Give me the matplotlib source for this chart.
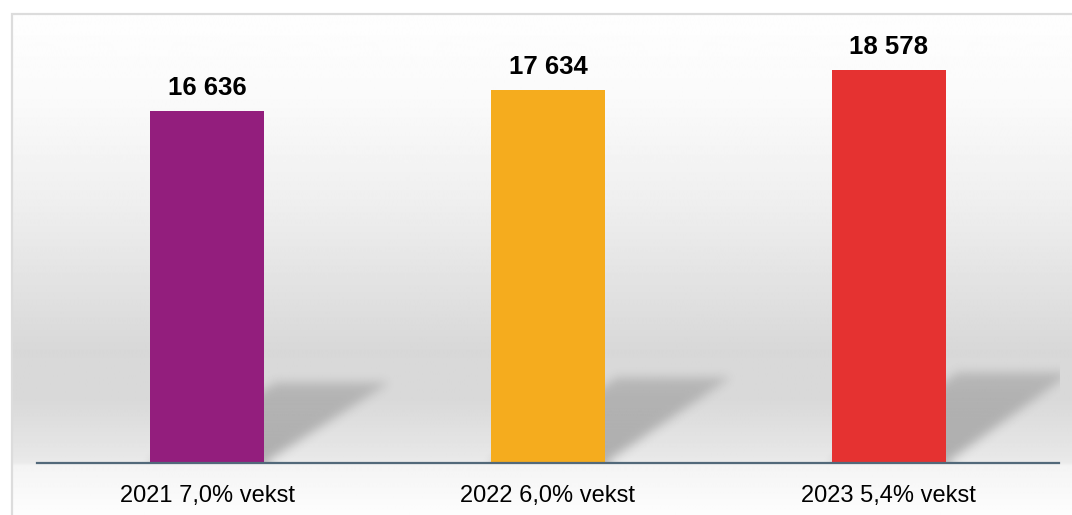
import numpy as np
import matplotlib.pyplot as plt
from matplotlib.patches import Rectangle

plt.rcParams['font.family'] = ['Liberation Sans Narrow', 'Liberation Sans', 'DejaVu Sans']

# data
labels = ["2021 7,0% vekst", "2022 6,0% vekst", "2023 5,4% vekst"]
values = [16636, 17634, 18578]
value_texts = ["16 636", "17 634", "18 578"]
colors = ["#931E7D", "#F5AC1E", "#E53231"]

W, H = 1072, 515
fig = plt.figure(figsize=(W / 100, H / 100), dpi=100)

# background gradient inside the frame (figure level)
bg = fig.add_axes([11 / W, 0, 1 - 11 / W, 1 - 14 / H], zorder=0)
ys = np.array([14, 100, 200, 300, 350, 400, 455, 463, 466, 515])
gs = np.array([254, 250, 239, 224, 216, 217, 231, 235, 244, 253])
rows = np.interp(np.arange(14, 516), ys, gs) / 255.0
img = np.repeat(rows[:, None], 4, axis=1)
bg.imshow(img, cmap='gray', vmin=0, vmax=1, aspect='auto', interpolation='bilinear',
          extent=[0, 1, 0, 1])
bg.set_axis_off()

# light frame
fig.patches.append(Rectangle((11.5 / W, -0.01), 1.0, 1 - 14.5 / H + 0.01,
                             transform=fig.transFigure, fill=False,
                             edgecolor='#DCDCDC', linewidth=1.6, zorder=1))

ax = fig.add_axes([37 / W, (H - 463) / H, (1059 - 37) / W, (463 - 14) / H], zorder=2)
ax.patch.set_alpha(0)

x = np.arange(len(values))
bw = 0.335
ymax = 21220

# soft blurred shadows behind the bars
px_x = 3.0 / (1059 - 37)      # data units per pixel
px_y = ymax / (463 - 14)
dx = 0.367


def blur(a, sigma):
    r = int(3 * sigma)
    k = np.exp(-0.5 * (np.arange(-r, r + 1) / sigma) ** 2)
    k /= k.sum()
    a = np.apply_along_axis(lambda m: np.convolve(m, k, mode='same'), 0, a)
    a = np.apply_along_axis(lambda m: np.convolve(m, k, mode='same'), 1, a)
    return a


for xi, v in zip(x, values):
    hs = 0.23 * v
    pad = 20
    x0 = xi - bw / 2 - pad * px_x
    x1 = xi + bw / 2 + dx + pad * px_x
    y1 = hs + pad * px_y
    nx = int((x1 - x0) / px_x)
    ny = int(y1 / px_y)
    gx = np.linspace(x0, x1, nx)
    gy = np.linspace(0, y1, ny)
    U, Y = np.meshgrid(gx, gy)
    shift = dx * Y / hs
    mask = ((Y <= hs) & (U >= xi - bw / 2 + shift) & (U <= xi + bw / 2 + shift)).astype(float)
    # mirror below baseline so blur does not fade at the bottom
    full = np.vstack([mask[::-1], mask])
    full = blur(full, 5.0)[ny:]
    fade = 0.29 - 0.11 * np.clip(Y / hs, 0, 1)
    rgba = np.zeros((ny, nx, 4))
    rgba[..., :3] = 0.12
    rgba[..., 3] = full * fade
    ax.imshow(rgba, extent=[x0, x1, 0, y1], origin='lower', aspect='auto',
              interpolation='bilinear', zorder=1)

ax.set_xlim(-0.5, 2.5)
ax.set_ylim(0, ymax)

ax.bar(x, values, width=bw, color=colors, zorder=3)

for xi, v, t in zip(x, values, value_texts):
    ax.annotate(t, (xi, v), xytext=(0, 11.5), textcoords='offset points',
                ha='center', va='baseline', fontsize=18.5, fontweight='bold',
                color='#000000', zorder=4)

ax.set_xticks(x)
ax.set_xticklabels(labels, fontsize=17, color='#000000')
ax.tick_params(axis='x', length=0, pad=16)
ax.set_yticks([])
for s in ['top', 'right', 'left']:
    ax.spines[s].set_visible(False)
ax.spines['bottom'].set_color('#52697A')
ax.spines['bottom'].set_linewidth(1.6)
ax.spines['bottom'].set_zorder(5)

fig.savefig("out.png", dpi=100)
